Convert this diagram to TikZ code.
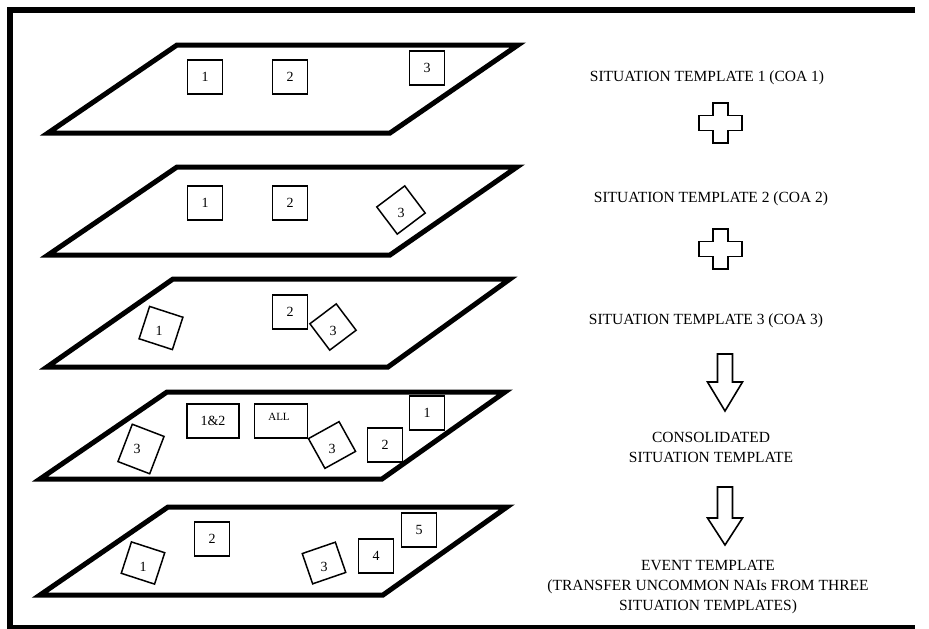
\documentclass[tikz,border=0pt]{standalone}
\usepackage{fontspec}
\setmainfont{Liberation Serif}
\tikzset{
  plane/.style={line width=5pt, line join=miter},
  nai/.style={draw, line width=1.5pt, minimum width=35pt, minimum height=34pt, inner sep=0pt, font=\fontsize{14}{14}\selectfont},
  num/.style={inner sep=0pt, font=\fontsize{14}{14}\selectfont},
  lbl/.style={font=\fontsize{15.5}{20}\selectfont, align=center, inner sep=0pt},
  sym/.style={draw, line width=1.6pt, line join=miter},
  frame/.style={line width=5.5pt, line join=miter},
}
\begin{document}
\begin{tikzpicture}[x=1pt, y=-1pt]
\useasboundingbox (0,0) rectangle (929,629);
\fill[white] (0,0) rectangle (929,629);
% outer frame (its right side lies beyond the picture)
\draw[frame] (915,10) -- (10,10) -- (10,627.5) -- (915,627.5);

% ---- plane 1
\draw[plane] (177,45) -- (518,45) -- (390,133) -- (48,133) -- cycle;
\node[nai] (a1) at (205,77) {1};
\node[nai] (a2) at (290,77) {2};
\node[nai] (a3) at (427,68) {3};

% ---- plane 2
\draw[plane] (177,167) -- (517,167) -- (390,255) -- (48,255) -- cycle;
\node[nai] (b1) at (205,203) {1};
\node[nai] (b2) at (290,203) {2};
\node[nai, rotate=37] (b3) at (401,210) {};
\node[num] at ([yshift=-3pt]b3.center) {3};

% ---- plane 3
\draw[plane] (173,279) -- (510,279) -- (388,367) -- (47,367) -- cycle;
\node[nai, rotate=-18] (c1) at (161,328) {};
\node[num] at ([xshift=-2pt, yshift=-3pt]c1.center) {1};
\node[nai] (c2) at (290,312) {2};
\node[nai, rotate=37, minimum width=33pt, minimum height=33pt] (c3) at (333,327) {};
\node[num] at ([yshift=-4pt]c3.center) {3};

% ---- plane 4 (consolidated)
\draw[plane] (167,392) -- (505,392) -- (382,479) -- (40,479) -- cycle;
\node[nai, rotate=-21, minimum width=34pt, minimum height=40pt] (d1) at (141,449) {};
\node[num] at ([xshift=-4pt]d1.center) {3};
\node[nai, minimum width=52pt] (d2) at (213,421) {1\&2};
\node[nai, minimum width=53pt] (d3) at (281,421) {};
\node[inner sep=0pt, font=\fontsize{11}{11}\selectfont] at ([xshift=-2pt, yshift=4pt]d3.center) {ALL};
\node[nai, rotate=29] (d4) at (332,445) {};
\node[num] at ([yshift=-4pt]d4.center) {3};
\node[nai] (d5) at (385,445) {2};
\node[nai] (d6) at (427,413) {1};

% ---- plane 5 (event template)
\draw[plane] (168,507) -- (507,507) -- (383,595) -- (40,595) -- cycle;
\node[nai, rotate=-18, minimum height=33pt] (e1) at (143,563) {};
\node[num] at ([yshift=-4pt]e1.center) {1};
\node[nai] (e2) at (212,539) {2};
\node[nai, rotate=19, minimum height=32pt] (e3) at (324,563) {};
\node[num] at ([yshift=-4pt]e3.center) {3};
\node[nai] (e4) at (376,556) {4};
\node[nai] (e5) at (419,530) {5};

% ---- right-hand captions
\node[lbl] (t1) at (707,78) {SITUATION TEMPLATE 1 (COA 1)};
\node[lbl] (t2) at (711,199) {SITUATION TEMPLATE 2 (COA 2)};
\node[lbl] (t3) at (706,321) {SITUATION TEMPLATE 3 (COA 3)};
\node[lbl] (t4) at (711,447) {CONSOLIDATED\\SITUATION TEMPLATE};
\node[lbl] (t5) at (708,587) {EVENT TEMPLATE\\(TRANSFER UNCOMMON NAIs FROM THREE\\SITUATION TEMPLATES)};

% ---- plus signs
\coordinate (p1) at (720.5,123);
\coordinate (p2) at (720.5,249);
\foreach \p in {p1,p2}{
  \draw[sym, shift={(\p)}] (-7.5,-20) -- (7.5,-20) -- (7.5,-7.5) -- (21.5,-7.5) -- (21.5,7.5) -- (7.5,7.5) -- (7.5,20) -- (-7.5,20) -- (-7.5,7.5) -- (-21.5,7.5) -- (-21.5,-7.5) -- (-7.5,-7.5) -- cycle;
}

% ---- down arrows
\coordinate (r1) at (725,354);
\coordinate (r2) at (725,487);
\draw[sym, shift={(r1)}] (-7.5,0) -- (7.5,0) -- (7.5,28) -- (17.5,28) -- (0,57) -- (-17.5,28) -- (-7.5,28) -- cycle;
\draw[sym, shift={(r2)}] (-7.5,0) -- (7.5,0) -- (7.5,31) -- (17.5,31) -- (0,58) -- (-17.5,31) -- (-7.5,31) -- cycle;
\end{tikzpicture}
\end{document}
